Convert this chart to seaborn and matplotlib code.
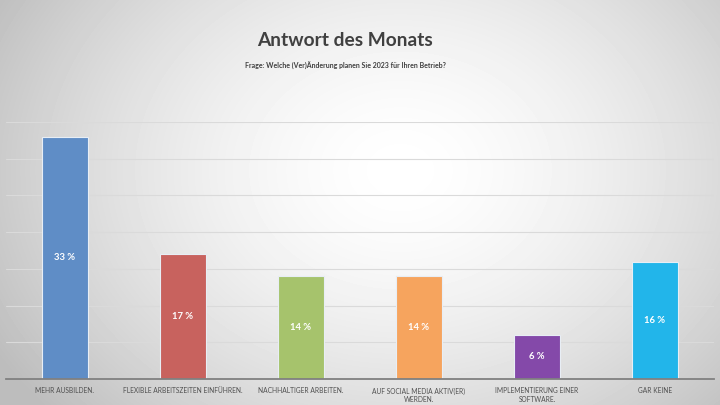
import numpy as np
import pandas as pd
import matplotlib
matplotlib.use("Agg")
import matplotlib.pyplot as plt
import seaborn as sns

# data
categories = ["MEHR AUSBILDEN.", "FLEXIBLE ARBEITSZEITEN EINFÜHREN.", "NACHHALTIGER ARBEITEN.",
              "AUF SOCIAL MEDIA AKTIV(ER)\nWERDEN.", "IMPLEMENTIERUNG EINER\nSOFTWARE.", "GAR KEINE"]
values = [33, 17, 14, 14, 6, 16]
colors = ["#5F8DC6", "#C8625E", "#A6C36C", "#F6A45E", "#8449A9", "#22B5EA"]
title = "Antwort des Monats"
subtitle = "Frage: Welche (Ver)Änderung planen Sie 2023 für Ihren Betrieb?"

sns.set_style("white")
plt.rcParams['font.family'] = ['Lato', 'DejaVu Sans']

df = pd.DataFrame({"cat": categories, "val": values})

fig = plt.figure(figsize=(7.2, 4.05), dpi=100)

# radial background gradient
bg = fig.add_axes([0, 0, 1, 1], zorder=-10)
yy, xx = np.mgrid[0:405, 0:720]
d = np.sqrt(((xx - 400) / 420.0) ** 2 + ((yy - 170) / 330.0) ** 2)
shade = np.clip(1.0 - 0.22 * d ** 1.6, 0.74, 1.0)
bg.imshow(shade, cmap="gray", vmin=0, vmax=1, aspect="auto", extent=[0, 720, 405, 0])
bg.axis("off")

ax = fig.add_axes([6 / 720, 1 - 379 / 405, 708 / 720, (379 - 122) / 405])
ax.patch.set_alpha(0)
sns.barplot(data=df, x="cat", y="val", hue="cat", palette=colors, legend=False,
            width=0.395, ax=ax, edgecolor="#e8eef5", linewidth=0.8, saturation=1)

ax.set_ylim(0, 35)
ax.set_xlim(-0.5, len(categories) - 0.5)
ax.set_yticks(np.arange(0, 36, 5))
ax.yaxis.grid(True, color="#dadada", linewidth=0.8)
ax.set_axisbelow(True)
ax.set_yticklabels([])
ax.tick_params(axis="y", length=0)
ax.tick_params(axis="x", length=0, pad=6, labelsize=4.8, labelcolor="#505050")
for lab in ax.get_xticklabels():
    lab.set_linespacing(1.3)
ax.set_xlabel("")
ax.set_ylabel("")
for s in ["top", "left", "right"]:
    ax.spines[s].set_visible(False)
ax.spines["bottom"].set_color("#808080")
ax.spines["bottom"].set_linewidth(1.3)

for i, v in enumerate(values):
    ax.text(i, v / 2, f"{v} %", ha="center", va="center", color="white",
            fontsize=6.8, fontweight="bold")

fig.text(345 / 720, 1 - 41 / 405, title, ha="center", va="center", fontsize=13.8,
         fontweight="bold", color="#404040")
fig.text(345 / 720, 1 - 66 / 405, subtitle, ha="center", va="center", fontsize=5.0,
         fontweight="bold", color="#404040")

fig.savefig("out.png", dpi=100)
